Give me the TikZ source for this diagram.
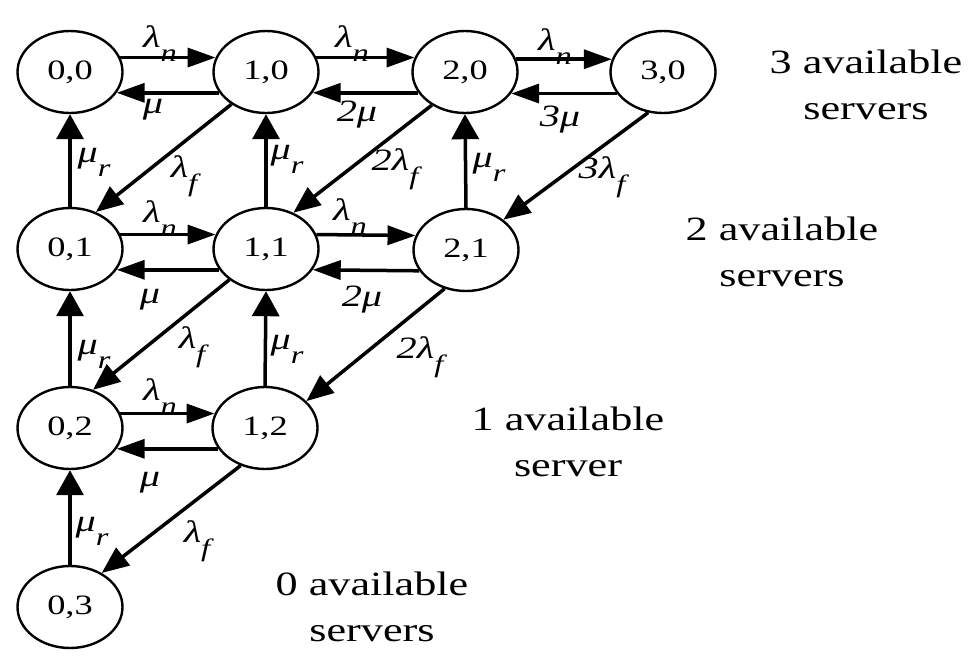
\documentclass[tikz,border=0pt]{standalone}
\usepackage{fontspec}
\setmainfont{Liberation Serif}[FakeStretch=1.3]
\usetikzlibrary{shapes.geometric,arrows.meta}
\newcommand\lsub[1]{\raisebox{-0.45em}{\fontsize{25}{25}\selectfont #1}}
\begin{document}
\begin{tikzpicture}[x=1pt,y=-1pt,
 state/.style={draw, ellipse, line width=2.4pt, minimum width=105pt, minimum height=82pt, inner sep=0pt, font=\fontsize{28}{30}\selectfont},
 harr/.style={line width=3.5pt, -{Triangle[length=28pt,width=19pt]}},
 varr/.style={line width=3.5pt, -{Triangle[length=25pt,width=27pt]}},
 darr/.style={line width=3.5pt, -{Triangle[length=27pt,width=22pt]}},
 lab/.style={font=\fontsize{31}{33}\selectfont\itshape, inner sep=0pt},
 side/.style={font=\fontsize{34}{46}\selectfont, align=center, inner sep=0pt}]
\useasboundingbox (0,0) rectangle (980,667);

\node[state] (n00) at (70,72) {0,0};
\node[state] (n10) at (266,72) {1,0};
\node[state] (n20) at (465,72) {2,0};
\node[state] (n30) at (663,72) {3,0};
\node[state] (n01) at (70,249) {0,1};
\node[state] (n11) at (266,249) {1,1};
\node[state] (n21) at (466,250) {2,1};
\node[state] (n02) at (70,428) {0,2};
\node[state] (n12) at (265,428) {1,2};
\node[state] (n03) at (70,607) {0,3};

% horizontal arrows
\draw[harr] (n00.16) -- (n10.164);
\draw[harr] (n10.204) -- (n00.336);
\draw[harr] (n10.16) -- (n20.164);
\draw[harr] (n20.204) -- (n10.336);
\draw[harr] (n20.14) -- (n30.166);
\draw[harr] (n30.205) -- (n20.335);
\draw[harr] (n01.16) -- (n11.164);
\draw[harr] (n11.204) -- (n01.336);
\draw[harr] (n11.16) -- (n21.164);
\draw[harr] (n21.204) -- (n11.336);
\draw[harr] (n02.16) -- (n12.164);
\draw[harr] (n12.204) -- (n02.336);

% vertical arrows
\draw[varr] (n01.north) -- (n00.south);
\draw[varr] (n11.north) -- (n10.south);
\draw[varr] (n21.north) -- (n20.south);
\draw[varr] (n02.north) -- (n01.south);
\draw[varr] (n12.north) -- (n11.south);
\draw[varr] (n03.north) -- (n02.south);

% diagonal arrows
\draw[darr] (n10.223) -- (n01.55);
\draw[darr] (n20.225) -- (n11.53);
\draw[darr] (n30.250) -- (n21.39);
\draw[darr] (n11.220) -- (n02.59);
\draw[darr] (n21.241) -- (n12.33);
\draw[darr] (n12.237) -- (n03.47);

% labels
\node[lab] (l01) at (160,44) {λ\lsub{n}};
\node[lab] (l02) at (153,110) {μ};
\node[lab] (l03) at (352,44) {λ\lsub{n}};
\node[lab] (l04) at (357,115) {2μ};
\node[lab] (l05) at (555,47) {λ\lsub{n}};
\node[lab] (l06) at (560,120) {3μ};
\node[lab] (l07) at (94,162) {μ\lsub{r}};
\node[lab] (l08) at (184,176) {λ\lsub{f}};
\node[lab] (l09) at (287,159) {μ\lsub{r}};
\node[lab] (l10) at (395,169) {2λ\lsub{f}};
\node[lab] (l11) at (489,167) {μ\lsub{r}};
\node[lab] (l12) at (602,177) {3λ\lsub{f}};
\node[lab] (l13) at (160,219) {λ\lsub{n}};
\node[lab] (l14) at (150,300) {μ};
\node[lab] (l15) at (350,217) {λ\lsub{n}};
\node[lab] (l16) at (362,300) {2μ};
\node[lab] (l17) at (94,354) {μ\lsub{r}};
\node[lab] (l18) at (192,347) {λ\lsub{f}};
\node[lab] (l19) at (287,349) {μ\lsub{r}};
\node[lab] (l20) at (420,357) {2λ\lsub{f}};
\node[lab] (l21) at (160,397) {λ\lsub{n}};
\node[lab] (l22) at (150,483) {μ};
\node[lab] (l23) at (92,531) {μ\lsub{r}};
\node[lab] (l24) at (197,541) {λ\lsub{f}};

% side texts
\node[side] (s3) at (866,85) {3 available\\servers};
\node[side] (s2) at (782,252) {2 available\\servers};
\node[side] (s1) at (568,442) {1 available\\server};
\node[side] (s0) at (372,607) {0 available\\servers};
\end{tikzpicture}
\end{document}
